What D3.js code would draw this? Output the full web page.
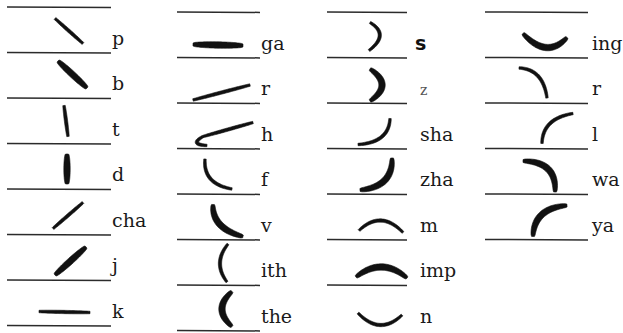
<!DOCTYPE html>
<html>
<head>
<meta charset="utf-8">
<script src="https://cdn.jsdelivr.net/npm/d3@7"></script>
<style>
  html, body { margin: 0; padding: 0; background: #fff; }
</style>
</head>
<body>
<div id="chart"></div>
<script>
// shorthand consonant signs, four columns
// each sign: segments [from, bend, to] in cell units (x from line start, y above the line), heavy = shaded stroke
const col1Labels = ["p", "b", "t", "d", "cha", "j", "k"];
const col1Signs = [
    { segs: [[[48, -34], null, [76, -9]]], heavy: false },
    { segs: [[[51, -37], null, [80, -10]]], heavy: true },
    { segs: [[[57, -38], null, [61, -7]]], heavy: false },
    { segs: [[[60, -35], null, [60, -5]]], heavy: true },
    { segs: [[[76, -32], null, [46, -6]]], heavy: false },
    { segs: [[[79, -33], null, [48, -5]]], heavy: true },
    { segs: [[[32, -14], null, [83, -13]]], heavy: false }
];

const col2Labels = ["ga", "r", "h", "f", "v", "ith", "the"];
const col2Signs = [
    { segs: [[[16, -13], null, [66, -12]]], heavy: true },
    { segs: [[[16, -3], null, [73, -18]]], heavy: false },
    { segs: [[[76, -26], null, [26, -12]], [[26, -12], [12, -4], [30, -3]]], heavy: false },
    { segs: [[[28, -35], [26, -10], [55, -5]]], heavy: false },
    { segs: [[[36, -35], [35, -11], [66, -3]]], heavy: true },
    { segs: [[[51, -41], [35.5, -22], [50, -3]]], heavy: false },
    { segs: [[[55, -39], [35, -21.5], [55, -4]]], heavy: true }
];

const col3Labels = ["s", "z", "sha", "zha", "m", "imp", "n"];
const col3Signs = [
    { segs: [[[43, -35], [63, -23], [42, -7]]], heavy: false },
    { segs: [[[43, -34], [67, -18], [43, -2]]], heavy: true },
    { segs: [[[63, -30], [62, -6], [31, -4]]], heavy: false },
    { segs: [[[65, -36], [66, -7], [33, -4]]], heavy: true },
    { segs: [[[32, -9], [54, -30], [76, -7]]], heavy: false },
    { segs: [[[29, -8], [55, -28.5], [80, -7]]], heavy: true },
    { segs: [[[31, -17.5], [53, 5.5], [75, -15.5]]], heavy: false }
];

const col4Labels = ["ing", "r", "l", "wa", "ya"];
const col4Signs = [
    { segs: [[[38, -24], [62, 2], [82, -20]]], heavy: true },
    { segs: [[[34, -35], [58, -34], [62, -5]]], heavy: false },
    { segs: [[[88, -35], [57.5, -30], [57, -5]]], heavy: false },
    { segs: [[[38, -33], [72, -32.5], [70, -2]]], heavy: true },
    { segs: [[[82, -34], [49, -31.5], [48, -3]]], heavy: true }
];

const width = 623;
const height = 333;
const rowStep = 45.5;

const columns = [
    { labels: col1Labels, signs: col1Signs, x0: 7, x1: 111, top: 7, labelX: 112, underlines: 7 },
    { labels: col2Labels, signs: col2Signs, x0: 177, x1: 260, top: 12, labelX: 261, underlines: 7 },
    { labels: col3Labels, signs: col3Signs, x0: 327, x1: 407, top: 12, labelX: 420, underlines: 6 },
    { labels: col4Labels, signs: col4Signs, x0: 485, x1: 588, top: 12, labelX: 592, underlines: 5 }
];

const row = d3.scaleLinear().domain([0, 7]).range([0, 7 * rowStep]);

const svg = d3.select("#chart")
    .append("svg")
    .attr("width", width)
    .attr("height", height)
    .style("background", "#fff");

// tapered pen stroke along a quadratic curve
function strokeShape(p0, c, p1, wMax, wMin, k) {
    const n = 36, left = [], right = [];
    for (let i = 0; i <= n; i++) {
        const t = i / n, u = 1 - t;
        const x = u * u * p0[0] + 2 * u * t * c[0] + t * t * p1[0];
        const y = u * u * p0[1] + 2 * u * t * c[1] + t * t * p1[1];
        let dx = 2 * u * (c[0] - p0[0]) + 2 * t * (p1[0] - c[0]);
        let dy = 2 * u * (c[1] - p0[1]) + 2 * t * (p1[1] - c[1]);
        const len = Math.hypot(dx, dy) || 1;
        dx /= len; dy /= len;
        const hw = (wMin + (wMax - wMin) * Math.pow(Math.sin(Math.PI * t), k)) / 2;
        left.push([x - dy * hw, y + dx * hw]);
        right.push([x + dy * hw, y - dx * hw]);
    }
    return d3.line().curve(d3.curveLinearClosed)(left.concat(right.reverse()));
}

const labelFont = {
    s: { family: "'DejaVu Sans', sans-serif", size: 19, weight: "bold", dx: -5, fill: "#111" },
    z: { family: "'DejaVu Serif', serif", size: 14, weight: "normal", dx: 0, fill: "#555" }
};

columns.forEach((col, ci) => {
    const lineY = i => col.top + row(i);
    const g = svg.append("g").attr("class", "col" + ci);

    // ruled lines
    g.selectAll(".rule")
        .data(d3.range(col.underlines + 1))
        .enter()
        .append("line")
        .attr("class", "rule")
        .attr("x1", col.x0)
        .attr("x2", col.x1)
        .attr("y1", d => lineY(d))
        .attr("y2", d => lineY(d) + 0.4)
        .attr("stroke", "#2b2b2b")
        .attr("stroke-width", 1.5);

    const sx = d3.scaleLinear().domain([0, 100]).range([col.x0, col.x0 + 100]);

    col.signs.forEach((sign, k) => {
        const base = lineY(k + 1);
        const sy = d3.scaleLinear().domain([-50, 0]).range([base - 50, base]);
        sign.segs.forEach(([a, b, c]) => {
            const mid = b || [(a[0] + c[0]) / 2, (a[1] + c[1]) / 2];
            const p0 = [sx(a[0]), sy(a[1])];
            const pc = [sx(mid[0]), sy(mid[1])];
            const p1 = [sx(c[0]), sy(c[1])];
            g.append("path")
                .attr("d", sign.heavy ? strokeShape(p0, pc, p1, 6.4, 2.8, 0.45) : strokeShape(p0, pc, p1, 3.3, 2.4, 0.7))
                .attr("fill", "#111")
                .attr("stroke", "#111")
                .attr("stroke-width", 0.6)
                .attr("stroke-linejoin", "round");
        });
    });

    g.selectAll(".label")
        .data(col.labels)
        .enter()
        .append("text")
        .attr("class", "label")
        .attr("x", d => col.labelX + (labelFont[d] ? labelFont[d].dx : 0))
        .attr("y", (d, i) => lineY(i + 1) - 8)
        .attr("font-family", d => labelFont[d] ? labelFont[d].family : "'DejaVu Serif', serif")
        .attr("font-size", d => (labelFont[d] ? labelFont[d].size : 19) + "px")
        .attr("font-weight", d => labelFont[d] ? labelFont[d].weight : "normal")
        .attr("fill", d => labelFont[d] ? labelFont[d].fill : "#1a1a1a")
        .text(d => d);
});
</script>
</body>
</html>
